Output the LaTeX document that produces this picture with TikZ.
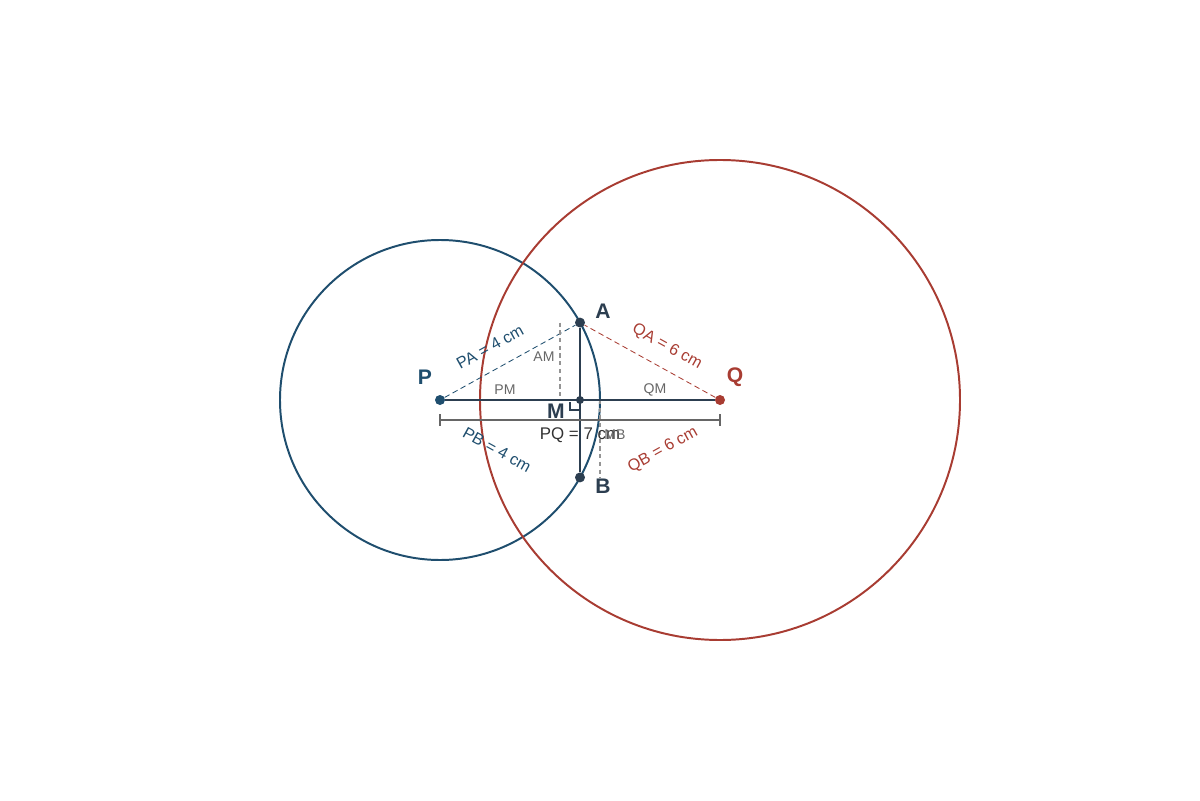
\documentclass[tikz,border=0pt]{standalone}
\usepackage{fontspec}
\setmainfont{Liberation Sans}
\usepackage{xcolor}
\usetikzlibrary{positioning,calc}

\definecolor{cblue}{HTML}{1F4E6E}
\definecolor{cred}{HTML}{A83C32}
\definecolor{cdark}{HTML}{2C3E50}
\definecolor{cgray}{HTML}{666666}

\begin{document}
\begin{tikzpicture}
\useasboundingbox (-11,-10) rectangle (19,10);
\tikzset{
  dot/.style={fill=#1, circle, inner sep=0pt, minimum size=0.25cm},
  ptlabel/.style={font=\fontsize{15}{17}\selectfont\bfseries, text=cdark},
  sidelabel/.style={font=\fontsize{11.5}{13}\selectfont},
  small/.style={font=\fontsize{10}{12}\selectfont, text=cgray},
  radius line/.style={#1, dash pattern=on 4pt off 2.5pt, line width=0.6pt},
  height line/.style={cgray!70, dash pattern=on 3pt off 2.5pt, line width=0.8pt}
}
% circles
\draw[cblue, line width=1.4pt] (0,0) circle (4);
\draw[cred, line width=1.4pt] (7,0) circle (6);

% points
\node[dot=cblue] (P) at (0,0) {};
\node[dot=cred] (Q) at (7,0) {};
\node[dot=cdark] (A) at (3.5,1.936) {};
\node[dot=cdark] (B) at (3.5,-1.936) {};
\node[dot=cdark, minimum size=0.2cm] (M) at (3.5,0) {};
\coordinate (am) at (3,1.936);
\coordinate (amfoot) at (3,0);
\coordinate (mb) at (4,0);
\coordinate (mbfoot) at (4,-1.936);
\coordinate (d1) at (0,-0.5);
\coordinate (d2) at (7,-0.5);

% radii
\draw[radius line=cblue] (P) -- (A);
\draw[radius line=cred] (Q) -- (A);

% auxiliary heights
\draw[height line] (am) -- (amfoot);
\draw[height line] (mb) -- (mbfoot);

% segments
\draw[cdark, line width=1.3pt] (P) -- (Q);
\draw[cdark, line width=1.6pt] (A) -- (B);
\draw[cdark, line width=0.8pt] ($(M)+(-0.25,-0.05)$) -- ++(0,-0.2) -- ++(0.25,0);

% dimension
\draw[cgray, line width=0.8pt] (d1) -- (d2);
\draw[cgray, line width=0.8pt] ($(d1)+(0,0.15)$) -- ($(d1)+(0,-0.15)$);
\draw[cgray, line width=0.8pt] ($(d2)+(0,0.15)$) -- ($(d2)+(0,-0.15)$);
\node[font=\fontsize{12}{14}\selectfont, text=black!80] (pq) at (3.5,-0.875) {PQ = 7 cm};

% labels
\node[ptlabel, text=cblue] (lP) at (-0.375,0.575) {P};
\node[ptlabel, text=cred] (lQ) at (7.375,0.575) {Q};
\node[ptlabel] (lA) at (4.075,2.225) {A};
\node[ptlabel] (lB) at (4.075,-2.15) {B};
\node[ptlabel] (lM) at (2.9,-0.275) {M};

\node[sidelabel, text=cblue, rotate=29] (lPA) at (1.25,1.325) {PA = 4 cm};
\node[sidelabel, text=cblue, rotate=-29] (lPB) at (1.425,-1.25) {PB = 4 cm};
\node[sidelabel, text=cred, rotate=-29] (lQA) at (5.675,1.325) {QA = 6 cm};
\node[sidelabel, text=cred, rotate=29] (lQB) at (5.575,-1.25) {QB = 6 cm};

\node[small] (lPM) at (1.625,0.25) {PM};
\node[small] (lQM) at (5.375,0.25) {QM};
\node[small] (lAM) at (2.6,1.075) {AM};
\node[small] (lMB) at (4.375,-0.875) {MB};
\end{tikzpicture}
\end{document}
